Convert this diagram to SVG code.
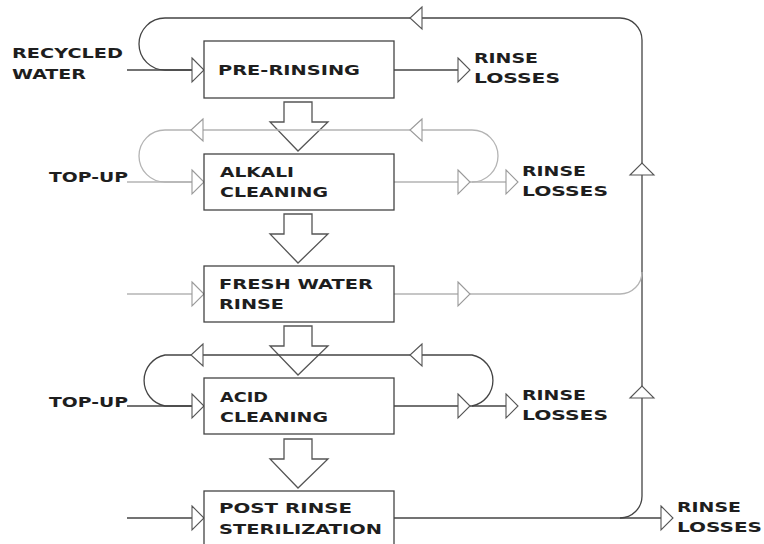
<svg xmlns="http://www.w3.org/2000/svg" xmlns:xlink="http://www.w3.org/1999/xlink" width="764" height="544" viewBox="0 0 764 544">
<style>
.box{fill:#fff;stroke:#444;stroke-width:1.3}
.blk{fill:#fff;stroke:#555;stroke-width:1.3;stroke-linejoin:miter}
.ln{fill:none;stroke:#444;stroke-width:1.3}
.lt{fill:none;stroke:#b4b4b4;stroke-width:1.3}
.tri{fill:#fff;stroke:#555;stroke-width:1.1}
.tril{fill:#fff;stroke:#999;stroke-width:1.1}
text{font-family:"DejaVu Sans","Liberation Sans",sans-serif;font-weight:bold;font-size:14px;fill:#1e1e1e}
</style>
<defs>
<polygon id="tr" points="0,-12 12,0 0,12"/>
<polygon id="tl" points="0,-11 -12,0 0,11"/>
<polygon id="tu" points="-12,0 0,-12 12,0"/>
<polygon id="blockarrow" points="284,0 312,0 312,20 328,20 298,49 270,20 284,20"/>
</defs>

<g id="connectors">
  <!-- block flow arrows (beneath loop lines) -->
  <use href="#blockarrow" y="102" class="blk"/>
  <use href="#blockarrow" y="214" class="blk"/>
  <use href="#blockarrow" y="326" class="blk"/>
  <use href="#blockarrow" y="439" class="blk"/>

  <!-- main recycle loop -->
  <path class="ln" d="M642,496 L642,40 A22 22 0 0 0 620,18 L165,18 A26 26 0 0 0 165,70 L192,70"/>
  <path class="ln" d="M127,70 L192,70"/>
  <path class="ln" d="M394,70 L458,70"/>
  <!-- alkali loop -->
  <path class="lt" d="M472,182 A26 26 0 0 0 472,130 L165,130 A26 26 0 0 0 165,182 L192,182"/>
  <path class="lt" d="M127,182 L192,182"/>
  <path class="lt" d="M394,182 L458,182 M470,182 L506,182"/>
  <!-- fresh water -->
  <path class="lt" d="M127,294 L192,294"/>
  <path class="lt" d="M394,294 L458,294 M470,294 L620,294 A22 22 0 0 0 642,272"/>
  <!-- acid loop -->
  <path class="ln" d="M472,406 A26 26 0 0 0 472,355 L165,355 A26 26 0 0 0 165,406 L192,406"/>
  <path class="ln" d="M127,406 L192,406"/>
  <path class="ln" d="M394,406 L458,406 M470,406 L506,406"/>
  <!-- post rinse -->
  <path class="ln" d="M127,518 L192,518"/>
  <path class="ln" d="M394,518 L661,518"/>
  <path class="ln" d="M642,496 A22 22 0 0 1 620,518"/>

  <!-- arrowheads -->
  <use href="#tl" x="422" y="18" class="tri"/>
  <use href="#tr" x="192" y="70" class="tri"/>
  <use href="#tr" x="458" y="70" class="tri"/>

  <use href="#tl" x="203" y="130" class="tril"/>
  <use href="#tl" x="422" y="130" class="tril"/>
  <use href="#tr" x="192" y="182" class="tril"/>
  <use href="#tr" x="458" y="182" class="tril"/>
  <use href="#tr" x="506" y="182" class="tril"/>

  <use href="#tr" x="192" y="294" class="tril"/>
  <use href="#tr" x="458" y="294" class="tril"/>

  <use href="#tl" x="203" y="355" class="tri"/>
  <use href="#tl" x="422" y="355" class="tri"/>
  <use href="#tr" x="192" y="406" class="tri"/>
  <use href="#tr" x="458" y="406" class="tri"/>
  <use href="#tr" x="506" y="406" class="tri"/>

  <use href="#tr" x="192" y="518" class="tri"/>
  <use href="#tr" x="661" y="518" class="tri"/>

  <use href="#tu" x="642" y="175" class="tri"/>
  <use href="#tu" x="642" y="398" class="tri"/>
</g>

<g id="pre-rinsing">
  <rect class="box" x="204" y="41" width="190" height="57"/>
  <text x="218" y="75" textLength="142" lengthAdjust="spacingAndGlyphs">PRE-RINSING</text>
</g>
<g id="alkali-cleaning">
  <rect class="box" x="204" y="154" width="190" height="56"/>
  <text x="220" y="177" textLength="74" lengthAdjust="spacingAndGlyphs">ALKALI</text>
  <text x="220" y="197" textLength="108" lengthAdjust="spacingAndGlyphs">CLEANING</text>
</g>
<g id="fresh-water-rinse">
  <rect class="box" x="204" y="266" width="190" height="56"/>
  <text x="219" y="289" textLength="154" lengthAdjust="spacingAndGlyphs">FRESH WATER</text>
  <text x="219" y="309" textLength="65" lengthAdjust="spacingAndGlyphs">RINSE</text>
</g>
<g id="acid-cleaning">
  <rect class="box" x="204" y="378" width="190" height="56"/>
  <text x="220" y="402" textLength="48" lengthAdjust="spacingAndGlyphs">ACID</text>
  <text x="220" y="422" textLength="108" lengthAdjust="spacingAndGlyphs">CLEANING</text>
</g>
<g id="post-rinse-sterilization">
  <rect class="box" x="204" y="491" width="190" height="60"/>
  <text x="219" y="513" textLength="133" lengthAdjust="spacingAndGlyphs">POST RINSE</text>
  <text x="219" y="534" textLength="163" lengthAdjust="spacingAndGlyphs">STERILIZATION</text>
</g>

<g id="recycled-water">
  <text x="12" y="58" textLength="111" lengthAdjust="spacingAndGlyphs">RECYCLED</text>
  <text x="12" y="79" textLength="74" lengthAdjust="spacingAndGlyphs">WATER</text>
</g>
<g id="top-up-1">
  <text x="49" y="182" textLength="79" lengthAdjust="spacingAndGlyphs">TOP-UP</text>
</g>
<g id="top-up-2">
  <text x="49" y="407" textLength="79" lengthAdjust="spacingAndGlyphs">TOP-UP</text>
</g>
<g id="rinse-losses-1">
  <text x="474" y="63" textLength="64" lengthAdjust="spacingAndGlyphs">RINSE</text>
  <text x="474" y="83" textLength="86" lengthAdjust="spacingAndGlyphs">LOSSES</text>
</g>
<g id="rinse-losses-2">
  <text x="522" y="176" textLength="64" lengthAdjust="spacingAndGlyphs">RINSE</text>
  <text x="522" y="196" textLength="86" lengthAdjust="spacingAndGlyphs">LOSSES</text>
</g>
<g id="rinse-losses-3">
  <text x="522" y="400" textLength="64" lengthAdjust="spacingAndGlyphs">RINSE</text>
  <text x="522" y="420" textLength="86" lengthAdjust="spacingAndGlyphs">LOSSES</text>
</g>
<g id="rinse-losses-4">
  <text x="677" y="512" textLength="64" lengthAdjust="spacingAndGlyphs">RINSE</text>
  <text x="677" y="532" textLength="85" lengthAdjust="spacingAndGlyphs">LOSSES</text>
</g>
</svg>
